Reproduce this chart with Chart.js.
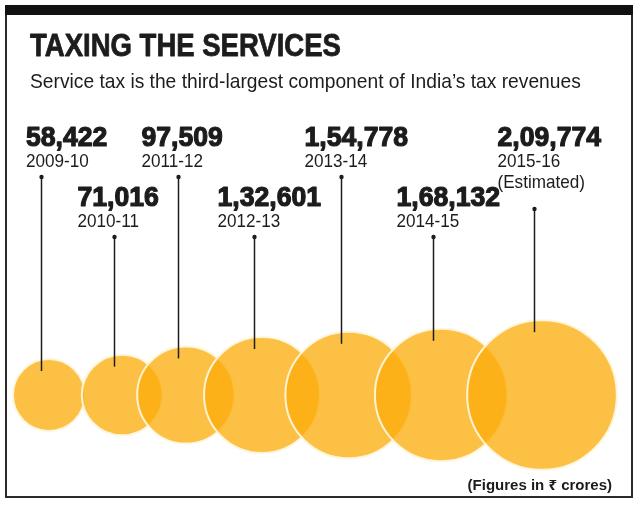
<!DOCTYPE html>
<html>
<head>
<meta charset="utf-8">
<script src="https://cdn.jsdelivr.net/npm/chart.js@4"></script>
<style>
  html, body { margin: 0; padding: 0; background: #fff; }
  canvas { display: block; }
</style>
</head>
<body>
<canvas id="chart" width="640" height="508"></canvas>
<script>
const years = ['2009-10', '2010-11', '2011-12', '2012-13', '2013-14', '2014-15', '2015-16']
const revenue = [58422, 71016, 97509, 132601, 154778, 168132, 209774]
const valueLabels = ['58,422', '71,016', '97,509', '1,32,601', '1,54,778', '1,68,132', '2,09,774']
const notes = ['', '', '', '', '', '', '(Estimated)']

const title = 'TAXING THE SERVICES'
const subtitle = 'Service tax is the third-largest component of India’s tax revenues'
const footnote = '(Figures in ₹ crores)'

const bubbleFill = 'rgba(251, 172, 11, 0.76)'
const bubbleEdge = 'rgba(255, 246, 220, 0.95)'
const ink = '#1c1c1c'

function bubbleRadius(v) {
  return 0.18 * Math.sqrt(v) - 7.6
}

// pack the circles left to right: first pair just touching, the rest overlapping
function bubbleCentres(radii) {
  let xs = [13 + radii[0]]
  for (let i = 1; i < radii.length; i++) {
    let gap = i === 1 ? radii[0] + radii[1] - 3 : (radii[i - 1] + radii[i]) * 0.715
    xs.push(xs[i - 1] + gap)
  }
  return xs
}

const radii = revenue.map(bubbleRadius)
const centres = bubbleCentres(radii)
const baselineY = 395

function squeezeText(ctx, text, x, y, font, squeeze, align, heavy) {
  ctx.save()
  ctx.font = font
  ctx.textAlign = 'left'
  ctx.textBaseline = 'alphabetic'
  let w = ctx.measureText(text).width * squeeze
  let left = align === 'right' ? x - w : x
  ctx.translate(left, y)
  ctx.scale(squeeze, 1)
  ctx.fillText(text, 0, 0)
  if (heavy) {
    ctx.strokeStyle = ctx.fillStyle
    ctx.lineWidth = heavy
    ctx.lineJoin = 'round'
    ctx.strokeText(text, 0, 0)
  }
  ctx.restore()
}

const framePlugin = {
  id: 'frame',
  beforeDraw(chart) {
    const ctx = chart.ctx
    ctx.save()
    ctx.fillStyle = '#fff'
    ctx.fillRect(0, 0, chart.width, chart.height)
    ctx.strokeStyle = '#2a2a2a'
    ctx.lineWidth = 2
    ctx.strokeRect(6, 6, 626, 491)
    ctx.fillStyle = '#111'
    ctx.fillRect(5, 5, 628, 10)
    ctx.fillStyle = ink
    squeezeText(ctx, title, 30, 56, 'bold 32px "Liberation Sans"', 0.86, 'left', 0.8)
    squeezeText(ctx, subtitle, 30, 88, '21px "Liberation Sans"', 0.915)
    squeezeText(ctx, footnote, 612, 490, 'bold 15px "Liberation Sans", "Noto Sans", "DejaVu Sans"', 1.0, 'right')
    ctx.restore()
  }
}

const calloutPlugin = {
  id: 'callouts',
  afterDatasetsDraw(chart) {
    const ctx = chart.ctx
    const meta = chart.getDatasetMeta(0)
    ctx.save()
    meta.data.forEach((pt, i) => {
      const r = pt.options.radius
      const lx = Math.round(pt.x - 8) + 0.5
      const textX = Math.max(lx - 37, 26)
      const valueY = i % 2 === 0 ? 146 : 206
      const yearY = valueY + 21
      let dotY = yearY + 10
      ctx.fillStyle = ink
      squeezeText(ctx, valueLabels[i], textX, valueY, 'bold 28px "Liberation Sans"', 0.95, 'left', 1.2)
      squeezeText(ctx, years[i], textX, yearY, '19px "Liberation Sans"', 0.9)
      if (notes[i]) {
        squeezeText(ctx, notes[i], textX, yearY + 21, '19px "Liberation Sans"', 0.9)
        dotY = yearY + 42
      }
      ctx.strokeStyle = ink
      ctx.lineWidth = 1.5
      ctx.beginPath()
      ctx.moveTo(lx, dotY)
      ctx.lineTo(lx, pt.y - r + 12)
      ctx.stroke()
      ctx.beginPath()
      ctx.arc(lx, dotY, 2.2, 0, Math.PI * 2)
      ctx.fill()
    })
    ctx.restore()
  }
}

new Chart(document.getElementById('chart'), {
  type: 'bubble',
  data: {
    datasets: [{
      label: 'Service tax',
      data: revenue.map((v, i) => ({ x: centres[i], y: baselineY, r: radii[i] })),
      backgroundColor: bubbleFill,
      borderColor: bubbleEdge,
      borderWidth: 2,
      hoverRadius: 0,
      clip: false,
    }]
  },
  options: {
    responsive: false,
    devicePixelRatio: 1,
    animation: false,
    events: [],
    layout: { padding: 0, autoPadding: false },
    plugins: {
      legend: { display: false },
      title: { display: false },
      tooltip: { enabled: false },
    },
    scales: {
      x: { type: 'linear', display: false, min: 0, max: 640 },
      y: { type: 'linear', display: false, min: 0, max: 508, reverse: true },
    }
  },
  plugins: [framePlugin, calloutPlugin]
})
</script>
</body>
</html>
